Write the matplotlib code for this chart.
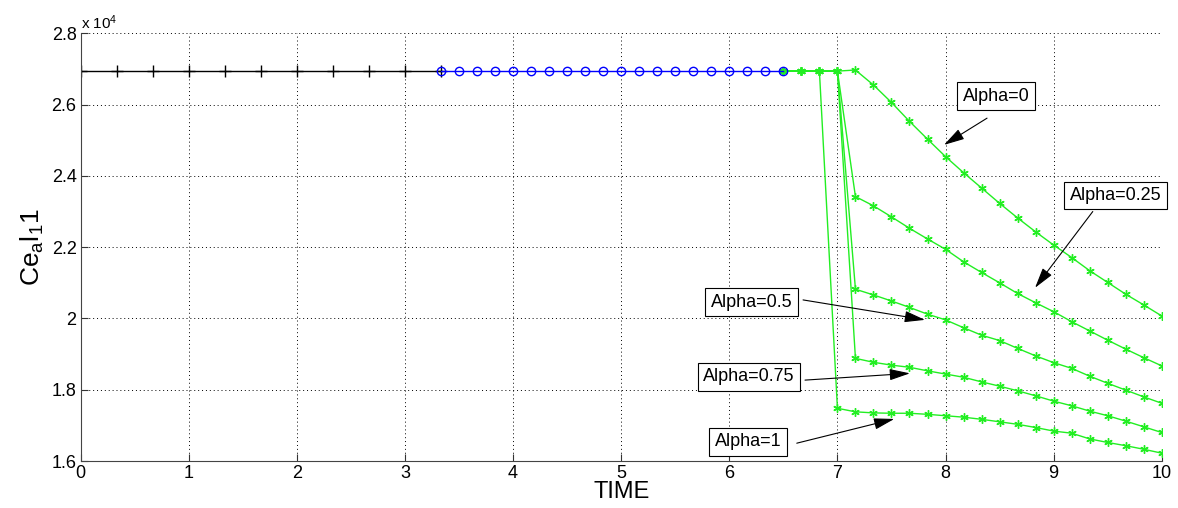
import numpy as np
import matplotlib.pyplot as plt

plt.rcParams['font.family'] = ['Liberation Sans', 'DejaVu Sans']
plt.rcParams['mathtext.default'] = 'regular'

# values in units of 1e4
base = 2.694

# black part: t = 0 .. 10/3
t_black = np.arange(11) / 3
y_black = [base] * len(t_black)

# blue part: t = 10/3 .. 6.5
t_blue = 10 / 3 + np.arange(20) / 6
y_blue = [base] * len(t_blue)

# green parts, common start
t_common = [6.5, 6.6667, 6.8333]
y_common = [base, base, base]

# after t = 7.0, step 1/6
t_tail = 7 + np.arange(1, 19) / 6

alpha0 = [2.697, 2.655, 2.606, 2.553, 2.503, 2.454, 2.409, 2.366, 2.323,
          2.282, 2.243, 2.206, 2.171, 2.134, 2.101, 2.068, 2.038, 2.007]
alpha025 = [2.342, 2.316, 2.285, 2.253, 2.223, 2.194, 2.159, 2.129, 2.100,
            2.070, 2.044, 2.019, 1.991, 1.965, 1.939, 1.914, 1.890, 1.867]
alpha05 = [2.082, 2.066, 2.049, 2.031, 2.012, 1.996, 1.974, 1.953, 1.938,
           1.916, 1.895, 1.876, 1.860, 1.838, 1.818, 1.799, 1.780, 1.762]
alpha075 = [1.888, 1.877, 1.869, 1.863, 1.853, 1.844, 1.835, 1.822, 1.810,
            1.797, 1.783, 1.768, 1.755, 1.740, 1.727, 1.712, 1.696, 1.680]
alpha1_at7 = 1.748
alpha1 = [1.738, 1.735, 1.734, 1.734, 1.731, 1.727, 1.723, 1.717, 1.710,
          1.703, 1.694, 1.684, 1.678, 1.662, 1.652, 1.643, 1.633, 1.622]

labels = ['Alpha=0', 'Alpha=0.25', 'Alpha=0.5', 'Alpha=0.75', 'Alpha=1']
# text position, arrow tail, arrow tip (data coords, y in 1e4)
label_xy = [(8.467, 2.624), (9.573, 2.345), (6.205, 2.046), (6.180, 1.836), (6.173, 1.654)]
tail_xy = [(8.384, 2.562), (9.362, 2.300), (6.682, 2.052), (6.700, 1.827), (6.624, 1.650)]
tip_xy = [(7.986, 2.487), (8.828, 2.086), (7.810, 1.996), (7.671, 1.846), (7.526, 1.718)]

fig = plt.figure(figsize=(11.78, 5.08), dpi=100)
ax = fig.add_axes([0.0685, 0.0925, 0.9177, 0.8419])

green = '#22ee22'
ast = (6, 2, 0)

for ys in [alpha0, alpha025, alpha05, alpha075]:
    t = list(t_common) + [7.0] + list(t_tail)
    y = list(y_common) + [base] + ys
    ax.plot(t, y, color=green, lw=1, marker=ast, ms=6, mew=1)
t = list(t_common) + [7.0] + list(t_tail)
y = list(y_common) + [alpha1_at7] + alpha1
ax.plot(t, y, color=green, lw=1, marker=ast, ms=6, mew=1)

ax.plot(t_black, y_black, color='black', lw=1, marker='+', ms=8, mew=1)
ax.plot(t_blue, y_blue, color='blue', lw=1, marker='o', ms=6, mfc='none', mew=1)

for lab, lxy, txy, pxy in zip(labels, label_xy, tail_xy, tip_xy):
    ax.text(lxy[0], lxy[1], lab, fontsize=13, ha='center', va='center',
            bbox=dict(boxstyle='square,pad=0.3', fc='white', ec='black', lw=0.8))
    ax.annotate('', xy=pxy, xytext=txy,
                arrowprops=dict(arrowstyle='-|>,head_length=0.9,head_width=0.25',
                                color='black', lw=0.8,
                                mutation_scale=14, shrinkA=0, shrinkB=0))

ax.set_xlim(0, 10)
ax.set_ylim(1.6, 2.8)
ax.set_xticks(range(11))
ax.set_yticks([1.6, 1.8, 2.0, 2.2, 2.4, 2.6, 2.8])
ax.set_yticklabels(['1.6', '1.8', '2', '2.2', '2.4', '2.6', '2.8'])
ax.tick_params(direction='in', length=5, labelsize=13, color='#333333', pad=3)
ax.grid(True, color='black', linestyle=(0, (1, 3)), lw=0.7)
ax.spines['top'].set_visible(False)
ax.spines['right'].set_visible(False)
for s in ['left', 'bottom']:
    ax.spines[s].set_color('#444444')

ax.set_xlabel('TIME', fontsize=17, labelpad=-1)
ax.set_ylabel('Ce$_a$l$_1$1', fontsize=19, labelpad=4)
ax.text(0.0, 1.003, 'x 10$^4$', transform=ax.transAxes, fontsize=11,
        ha='left', va='bottom')

fig.savefig('out.png', dpi=100)
